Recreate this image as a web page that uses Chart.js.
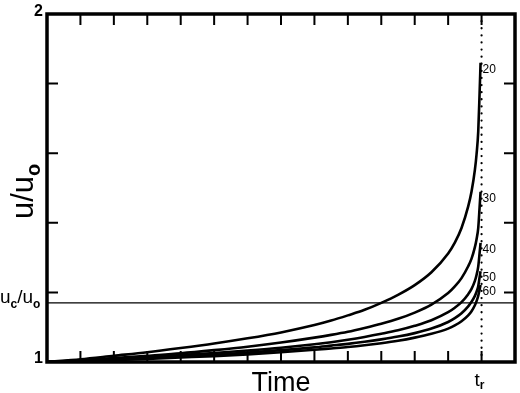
<!DOCTYPE html>
<html>
<head>
<meta charset="utf-8">
<script src="https://cdn.jsdelivr.net/npm/chart.js@4.4.0/dist/chart.umd.min.js"></script>
<style>
  html, body { margin: 0; padding: 0; background: #fff; }
  #wrap { width: 520px; height: 393px; }
</style>
</head>
<body>
<div id="wrap"><canvas id="chart"></canvas></div>
<script>
// time axis (arbitrary units, rupture at t_r = 13)
const times = [0, 1, 2, 3, 4, 5, 6, 7, 8, 8.5, 9, 9.5, 10, 10.5, 11, 11.5, 12, 12.2, 12.4, 12.6, 12.7, 12.8, 12.85, 12.9, 12.94, 12.97];
const curveLabels = ["20", "30", "40", "50", "60"];
const u20 = [1.000, 1.008, 1.018, 1.028, 1.040, 1.053, 1.068, 1.085, 1.106, 1.119, 1.134, 1.150, 1.170, 1.193, 1.221, 1.258, 1.312, 1.343, 1.385, 1.447, 1.490, 1.552, 1.597, 1.662, 1.770, 1.860];
const u30 = [1.000, 1.005, 1.011, 1.018, 1.025, 1.034, 1.044, 1.056, 1.070, 1.078, 1.087, 1.098, 1.110, 1.124, 1.142, 1.165, 1.198, 1.217, 1.241, 1.275, 1.297, 1.330, 1.353, 1.385, 1.443, 1.489];
const u40 = [1.000, 1.004, 1.009, 1.014, 1.020, 1.026, 1.033, 1.041, 1.051, 1.057, 1.064, 1.072, 1.081, 1.091, 1.104, 1.120, 1.143, 1.156, 1.172, 1.195, 1.210, 1.233, 1.250, 1.274, 1.312, 1.342];
const u50 = [1.000, 1.003, 1.007, 1.011, 1.016, 1.021, 1.027, 1.034, 1.042, 1.047, 1.052, 1.058, 1.065, 1.073, 1.083, 1.096, 1.115, 1.126, 1.140, 1.160, 1.173, 1.190, 1.202, 1.218, 1.243, 1.261];
const u60 = [1.000, 1.003, 1.006, 1.009, 1.013, 1.017, 1.022, 1.028, 1.035, 1.039, 1.043, 1.048, 1.054, 1.061, 1.070, 1.081, 1.096, 1.105, 1.117, 1.134, 1.146, 1.163, 1.175, 1.190, 1.208, 1.221];
const series = [u20, u30, u40, u50, u60];
const criticalRatio = 1.17;
const ruptureTime = 13;
const xTicks = [1, 2, 3, 4, 5, 6, 7, 8, 9, 10, 11, 12, 13];
const yTicks = [1.2, 1.4, 1.6, 1.8];

const FONT = "'Liberation Sans', Arial, Helvetica, sans-serif";

const datasets = series.map(function (vals, i) {
    return {
        label: curveLabels[i],
        data: times.map(function (t, k) { return { x: t, y: vals[k] }; }),
        showLine: true,
        borderColor: "#000",
        borderWidth: 2.6,
        pointRadius: 0,
        cubicInterpolationMode: "monotone",
        fill: false
    };
});

datasets.push({
    label: "uc",
    data: [{ x: 0, y: criticalRatio }, { x: 14, y: criticalRatio }],
    showLine: true,
    borderColor: "#000",
    borderWidth: 1.3,
    pointRadius: 0
});

datasets.push({
    label: "tr",
    data: [{ x: ruptureTime, y: 1 }, { x: ruptureTime, y: 2 }],
    showLine: true,
    borderColor: "#000",
    borderWidth: 2.2,
    borderDash: [0.1, 7],
    borderCapStyle: "round",
    pointRadius: 0
});

function drawSub(ctx, x, y, main, sub, mainSize, subSize, drop) {
    ctx.font = mainSize + "px " + FONT;
    ctx.fillText(main, x, y);
    const w = ctx.measureText(main).width;
    ctx.font = "bold " + subSize + "px " + FONT;
    ctx.fillText(sub, x + w, y + drop);
    return w + ctx.measureText(sub).width;
}

const framePlugin = {
    id: "frame",
    afterDatasetsDraw: function (chart) {
        const ctx = chart.ctx;
        const a = chart.chartArea;
        const xs = chart.scales.x;
        const ys = chart.scales.y;
        ctx.save();
        ctx.strokeStyle = "#000";
        ctx.fillStyle = "#000";

        // ticks, inside the frame
        ctx.lineWidth = 2;
        ctx.beginPath();
        xTicks.forEach(function (v) {
            const px = xs.getPixelForValue(v);
            ctx.moveTo(px, a.top); ctx.lineTo(px, a.top + 11);
            ctx.moveTo(px, a.bottom); ctx.lineTo(px, a.bottom - 11);
        });
        yTicks.forEach(function (v) {
            const py = ys.getPixelForValue(v);
            ctx.moveTo(a.left, py); ctx.lineTo(a.left + 11, py);
            ctx.moveTo(a.right, py); ctx.lineTo(a.right - 11, py);
        });
        ctx.stroke();

        // frame
        ctx.lineWidth = 3.5;
        ctx.strokeRect(a.left, a.top, a.right - a.left, a.bottom - a.top);

        // y tick labels
        ctx.font = "bold 16px " + FONT;
        ctx.textAlign = "right";
        ctx.textBaseline = "alphabetic";
        ctx.fillText("2", a.left - 4, ys.getPixelForValue(2) + 2);
        ctx.fillText("1", a.left - 4, ys.getPixelForValue(1) + 1);

        // curve labels
        ctx.font = "12px " + FONT;
        ctx.textAlign = "left";
        ctx.textBaseline = "middle";
        series.forEach(function (vals, i) {
            const px = xs.getPixelForValue(times[times.length - 1]);
            const py = ys.getPixelForValue(vals[vals.length - 1]);
            ctx.fillText(curveLabels[i], px + 2, py + 7);
        });

        // x title
        ctx.font = "27px " + FONT;
        ctx.textAlign = "center";
        ctx.textBaseline = "alphabetic";
        ctx.fillText("Time", 281, 391);

        // t_r
        ctx.textAlign = "left";
        drawSub(ctx, xs.getPixelForValue(ruptureTime) - 7, 386, "t", "r", 19, 12, 3);

        // u_c/u_o at the critical line
        const yc = ys.getPixelForValue(criticalRatio);
        let x0 = 0;
        x0 += drawSub(ctx, x0, yc, "u", "c", 19, 12, 5);
        ctx.font = "19px " + FONT;
        ctx.fillText("/", x0, yc);
        x0 += ctx.measureText("/").width;
        drawSub(ctx, x0, yc, "u", "o", 19, 12, 5);

        // y title, rotated
        ctx.save();
        ctx.translate(33, 219);
        ctx.rotate(-Math.PI / 2);
        drawSub(ctx, 0, 0, "u/u", "o", 31, 20, 7);
        ctx.restore();

        ctx.restore();
    }
};

new Chart(document.getElementById("chart"), {
    type: "scatter",
    data: { datasets: datasets },
    options: {
        responsive: true,
        maintainAspectRatio: false,
        animation: false,
        layout: { padding: { left: 47, right: 5, top: 14, bottom: 31 } },
        scales: {
            x: { type: "linear", min: 0, max: 14, display: false },
            y: { type: "linear", min: 1, max: 2, display: false }
        },
        plugins: {
            legend: { display: false },
            tooltip: { enabled: false }
        }
    },
    plugins: [framePlugin]
});
</script>
</body>
</html>
